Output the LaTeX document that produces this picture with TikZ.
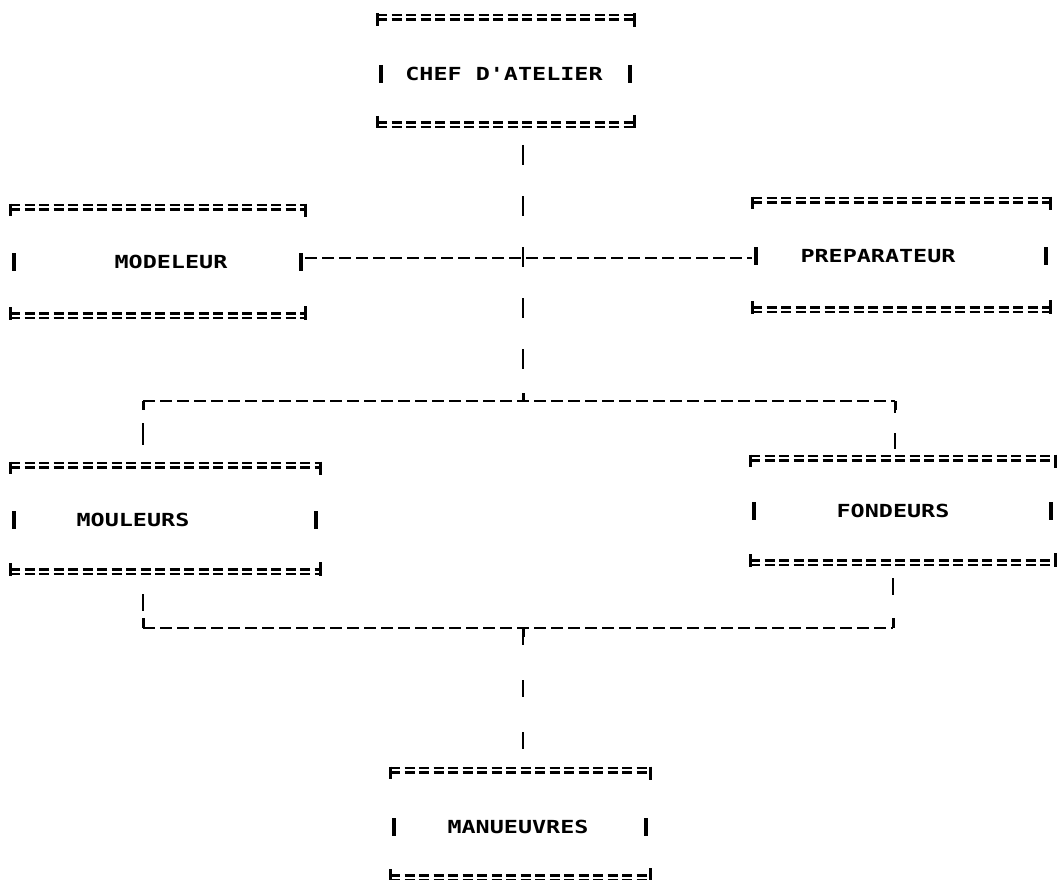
\documentclass[tikz,border=0pt]{standalone}
\usepackage{fontspec}
\newfontfamily\dotfont[FakeStretch=1.3]{DejaVu Sans Mono}
\tikzset{
  eqline/.style={line width=2.3pt, dash pattern=on 10pt off 4.5pt},
  tick/.style={line width=3pt},
  sidebar/.style={line width=4pt},
  hconn/.style={line width=2.4pt, dash pattern=on 12pt off 5pt},
  vconn/.style={line width=2.4pt, dash pattern=on 20pt off 31pt},
  lbl/.style={inner sep=0pt, font=\dotfont\bfseries\fontsize{18}{20}\selectfont}
}
% #1 name, #2 L, #3 R, #4 T, #5 B, #6 text y, #7 text x, #8 text
\newcommand\pbox[8]{%
  \coordinate (#1-nw) at (#2,#4);
  \coordinate (#1-se) at (#3,#5);
  \node[lbl] (#1) at (#7,#6) {#8};
  \draw[eqline] ({#2},{#4-2.2}) -- ({#3},{#4-2.2});
  \draw[eqline] ({#2},{#4+2.6}) -- ({#3},{#4+2.6});
  \draw[eqline] ({#2},{#5-2.6}) -- ({#3},{#5-2.6});
  \draw[eqline] ({#2},{#5+2.2}) -- ({#3},{#5+2.2});
  \draw[tick] ({#2},{#4-3.5}) -- ({#2},{#4+9});
  \draw[tick] ({#3},{#4-3.5}) -- ({#3},{#4+10});
  \draw[tick] ({#2},{#5-9}) -- ({#2},{#5+3.5});
  \draw[tick] ({#3},{#5-10}) -- ({#3},{#5+3.5});
  \draw[sidebar] ({#2+4},{#6-9}) -- ({#2+4},{#6+9});
  \draw[sidebar] ({#3-4},{#6-9}) -- ({#3-4},{#6+9});
}
\begin{document}
\begin{tikzpicture}[x=1pt,y=-1pt]
\useasboundingbox (0,0) rectangle (1060,880);
\fill[white] (0,0) rectangle (1060,880);

\pbox{chef}{377}{634}{17}{125}{74}{504}{CHEF D'ATELIER}
\pbox{mod}{10}{305}{207}{316}{262}{171}{MODELEUR}
\pbox{prep}{752}{1050}{200}{310}{256}{878}{PREPARATEUR}
\pbox{moul}{10}{320}{465}{572}{520}{133}{MOULEURS}
\pbox{fond}{750}{1055}{458}{563}{511}{893}{FONDEURS}
\pbox{man}{390}{650}{770}{878}{827}{518}{MANUEUVRES}

% junction coordinates
\coordinate (chefs) at (523,125);
\coordinate (cross) at (523,258);
\coordinate (j1) at (523,401);
\coordinate (j1l) at (143,401);
\coordinate (j1r) at (895,401);
\coordinate (j2) at (523,628);
\coordinate (j2l) at (143,628);
\coordinate (j2r) at (893,628);
\coordinate (mode) at (305,258);
\coordinate (prepw) at (752,258);
\coordinate (mouln) at (143,465);
\coordinate (fondn) at (895,458);
\coordinate (mouls) at (143,572);
\coordinate (fonds) at (893,563);
\coordinate (mann) at (523,770);

% vertical from chef
\draw[vconn, dash phase=-20pt] (chefs) -- (j1);
\draw[line width=2.4pt] (523,250) -- (523,266);
% horizontal modeleur - preparateur
\draw[hconn] (mode) -- (prepw);
% upper branch line
\draw[hconn] (j1l) -- (j1r);
\draw[tick] (523,393) -- (523,401);
\draw[tick] (j1l) -- ++(0,9);
\draw[tick] (j1r) -- ++(0,9);
\draw[line width=2.4pt, dash pattern=on 22pt off 40pt, dash phase=-22pt] (j1l) -- (mouln);
\draw[line width=2.4pt, dash pattern=on 16pt off 20pt, dash phase=-32pt] (j1r) -- (fondn);
% lower branch line
\draw[line width=2.4pt, dash pattern=on 17pt off 40pt, dash phase=-22pt] (mouls) -- (j2l);
\draw[line width=2.4pt, dash pattern=on 17pt off 40pt, dash phase=-15pt] (fonds) -- (j2r);
\draw[hconn] (j2l) -- (j2r);
\draw[tick] (j2l) -- ++(0,-10);
\draw[tick] (j2r) -- ++(0,-10);
\draw[tick] (j2) -- ++(0,9);
\draw[line width=2.4pt, dash pattern=on 17pt off 35pt, dash phase=-52pt] (j2) -- (mann);
\end{tikzpicture}
\end{document}
